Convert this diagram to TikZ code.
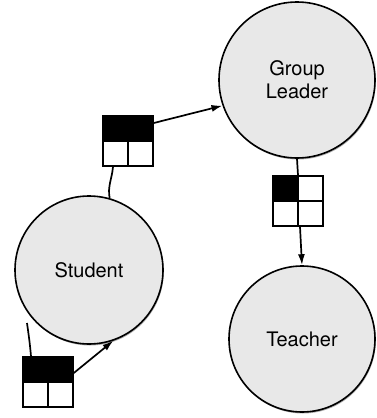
\documentclass[tikz,border=0pt]{standalone}
\usepackage{fontspec}
\setmainfont{TeX Gyre Heros}
\usetikzlibrary{arrows.meta,shadows}
\definecolor{circfill}{HTML}{E8E8E8}
\tikzset{
  actor/.style={circle, draw=black, line width=1.6pt, fill=circfill,
    font=\fontsize{20}{23}\selectfont, align=center, inner sep=0pt,
    drop shadow={shadow xshift=0.8pt, shadow yshift=-1.5pt, opacity=0.45, fill=black!70}},
  gridbox/.style={draw=black, line width=1.6pt, fill=white, minimum size=50pt, inner sep=0pt},
  tophalf/.style={gridbox, path picture={
      \fill[black] (path picture bounding box.north west) rectangle (path picture bounding box.east);
      \draw[line width=1.6pt] (path picture bounding box.west) -- (path picture bounding box.east);
      \draw[line width=1.6pt] (path picture bounding box.center) -- (path picture bounding box.south);}},
  topleft/.style={gridbox, path picture={
      \fill[black] (path picture bounding box.north west) rectangle (path picture bounding box.center);
      \draw[line width=1.6pt] (path picture bounding box.west) -- (path picture bounding box.east);
      \draw[line width=1.6pt] (path picture bounding box.north) -- (path picture bounding box.south);}},
  link/.style={line width=1.7pt, draw=black},
  arrowlink/.style={link, -{Latex[length=11pt,width=7pt]}}
}
\begin{document}
\begin{tikzpicture}[x=1pt,y=-1pt]
\useasboundingbox (0,0) rectangle (376,418);
% circles
\node[actor, minimum size=148pt] (student) at (89,270) {Student};
\node[actor, minimum size=156pt] (leader) at (297,80) {Group\\Leader};
\node[actor, minimum size=146pt] (teacher) at (302,339) {Teacher};
% boxes
\node[tophalf] (b1) at (128,141) {};
\node[topleft] (b2) at (298,201) {};
\node[tophalf] (b3) at (48,382) {};
\coordinate (free) at (27,323);
% connectors
\draw[link] ([xshift=-15pt]b1.south) to[out=-95, in=100] (student.74.5);
\draw[arrowlink] ([yshift=18pt]b1.east) -- (leader.199);
\draw[link] (leader.south) -- (b2.north);
\draw[arrowlink] ([xshift=2pt]b2.south) -- (teacher.north);
\draw[arrowlink] ([yshift=9pt]b3.east) -- (student.-71);
\draw[link] ([xshift=-17pt]b3.north) to[out=95, in=-82] (free);
\end{tikzpicture}
\end{document}
